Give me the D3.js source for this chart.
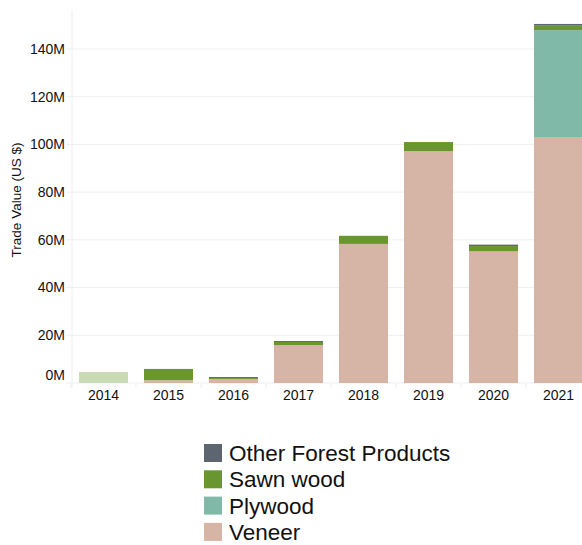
<!DOCTYPE html>
<html><head><meta charset="utf-8">
<script src="https://cdn.jsdelivr.net/npm/d3@7"></script>
<style>body{margin:0;background:#fff;}svg{display:block;font-family:"Liberation Sans",Arial,sans-serif;}</style>
</head><body>
<svg id="c" width="582" height="545"></svg>
<script>
const years = ["2014","2015","2016","2017","2018","2019","2020","2021"];
const veneer = [0, 1.2, 1.7, 15.9, 58.3, 97.2, 55.0, 103.1];
const plywood = [0, 0, 0, 0, 0, 0, 0.3, 44.8];
const sawnWood = [4.6, 4.7, 0.4, 1.3, 3.4, 3.8, 2.1, 2.1];
const otherForest = [0, 0, 0.4, 0.4, 0, 0, 0.6, 0.5];
const seriesNames = ["Veneer","Plywood","Sawn wood","Other Forest Products"];
const yTicks = [0,20,40,60,80,100,120,140];
const legendOrder = ["Other Forest Products","Sawn wood","Plywood","Veneer"];
const fadedYears = ["2014"];

const colors = {"Veneer":"#d6b4a6","Plywood":"#80b9a8","Sawn wood":"#6a962f","Other Forest Products":"#5d6570"};
const fadedColors = {"Veneer":"#eee1db","Plywood":"#cce3dc","Sawn wood":"#c9dbb4","Other Forest Products":"#c1c5cb"};

const svg = d3.select("#c");
const x = d3.scaleBand().domain(years).range([71, 591]).paddingInner(0.246).paddingOuter(0.123);
const y = d3.scaleLinear().domain([0, 140]).range([383, 49]);

const rows = years.map((yr,i)=>({year:yr,"Veneer":veneer[i],"Plywood":plywood[i],"Sawn wood":sawnWood[i],"Other Forest Products":otherForest[i]}));
const stack = d3.stack().keys(seriesNames)(rows);

// gridlines
svg.append("g").selectAll("line").data(yTicks).join("line")
  .attr("x1",66).attr("x2",582).attr("y1",d=>y(d)).attr("y2",d=>y(d))
  .attr("stroke","#efefef").attr("stroke-width",1);
// left axis line
svg.append("line").attr("x1",72).attr("x2",72).attr("y1",10).attr("y2",388).attr("stroke","#eeeeee");
// bottom category ticks
svg.append("g").selectAll("line").data(years).join("line")
  .attr("x1",d=>x(d)-8).attr("x2",d=>x(d)-8).attr("y1",383).attr("y2",388).attr("stroke","#eeeeee");

// bars
svg.append("g").selectAll("g").data(stack).join("g")
  .each(function(s){
    d3.select(this).selectAll("rect").data(s).join("rect")
      .attr("x",d=>x(d.data.year)).attr("width",x.bandwidth())
      .attr("y",d=>y(d[1])).attr("height",d=>Math.max(0,y(d[0])-y(d[1])))
      .attr("fill",d=>fadedYears.includes(d.data.year)?fadedColors[s.key]:colors[s.key]);
  });

// y tick labels
svg.append("g").selectAll("text").data(yTicks).join("text")
  .attr("x",65).attr("y",d=>d===0?y(d)-8:y(d)).attr("dy","0.35em")
  .attr("text-anchor","end").attr("font-size",14).attr("fill","#111")
  .text(d=>d+"M");
// x labels
svg.append("g").selectAll("text").data(years).join("text")
  .attr("x",d=>x(d)+x.bandwidth()/2).attr("y",400).attr("text-anchor","middle")
  .attr("font-size",14).attr("fill","#111").text(d=>d);
// y title
svg.append("text").attr("transform","translate(21,200) rotate(-90)").attr("text-anchor","middle")
  .attr("font-size",13.5).attr("fill","#111").text("Trade Value (US $)");

// legend
const lg = svg.append("g").selectAll("g").data(legendOrder).join("g")
  .attr("transform",(d,i)=>`translate(204,${444+i*26.3})`);
lg.append("rect").attr("width",18).attr("height",18).attr("fill",d=>colors[d]);
lg.append("text").attr("x",25).attr("y",9).attr("dy","0.36em").attr("font-size",22.5).attr("fill","#111").text(d=>d);
</script>
</body></html>
